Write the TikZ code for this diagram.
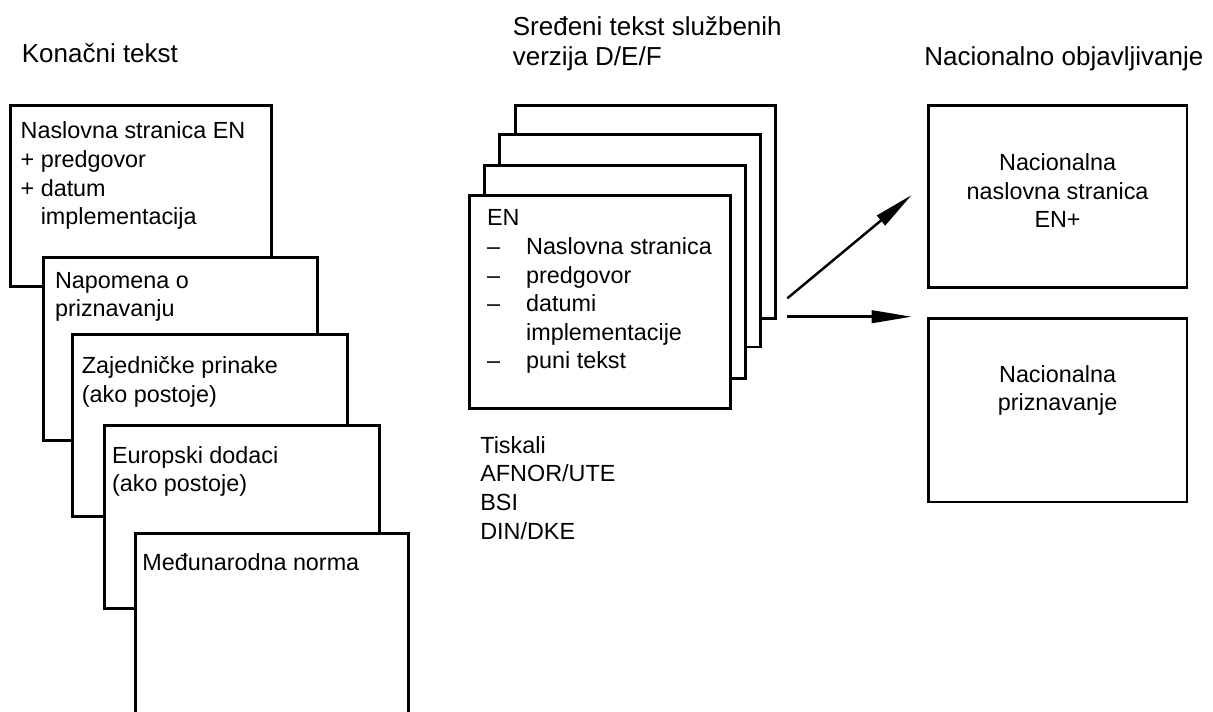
\documentclass[tikz,border=0pt]{standalone}
\usepackage{fontspec}
\setmainfont{Liberation Sans}
\usetikzlibrary{positioning,arrows.meta}
\tikzset{
	card/.style={draw, line width=1.6pt, fill=white, anchor=north west, inner sep=0pt, minimum width=5.5cm, minimum height=3.64cm},
	stackcard/.style={card, minimum width=5.21cm, minimum height=4.26cm},
	natcard/.style={card, minimum width=5.18cm, minimum height=3.66cm},
	txt/.style={inner sep=0pt, align=left, font=\fontsize{13.3}{16.3}\selectfont},
	head/.style={inner sep=0pt, align=left, anchor=north west, font=\fontsize{14.8}{17}\selectfont},
	arr/.style={line width=1.4pt, -{Triangle[length=0.8cm,width=0.25cm]}}
}
\newcommand{\dashitem}{\makebox[0.78cm][l]{--}}
\begin{document}
\begin{tikzpicture}[x=0.02cm,y=-0.02cm]
		\useasboundingbox (0,0) rectangle (1213,711);
		\node[head] (h1) at (21.5,43.3) {Konačni tekst};
		\node[head] (h2) at (512.5,16.7) {Sređeni tekst službenih\\verzija D/E/F};
		\node[head] (h3) at (924,46.7) {Nacionalno objavljivanje};
		% konacni tekst
		\node[card, minimum width=5.21cm, minimum height=3.62cm] (b1) at (9.3,104) {};
		\node[txt, below right=0.354cm and 0.22cm of b1.north west] (t1) {Naslovna stranica EN\\+ predgovor\\+ datum\\\phantom{+ }implementacija};
		\node[card, minimum width=5.49cm, minimum height=3.67cm] (b2) at (41.7,256) {};
		\node[txt, below right=0.314cm and 0.26cm of b2.north west] (t2) {Napomena o\\priznavanju};
		\node[card, minimum width=5.51cm, minimum height=3.63cm] (b3) at (71,333.3) {};
		\node[txt, below right=0.454cm and 0.21cm of b3.north west] (t3) {Zajedničke prinake\\(ako postoje)};
		\node[card, minimum width=5.51cm, minimum height=3.65cm] (b4) at (102.7,424.3) {};
		\node[txt, below right=0.434cm and 0.18cm of b4.north west] (t4) {Europski dodaci\\(ako postoje)};
		\node[card, minimum width=5.47cm, minimum height=4.4cm] (b5) at (134,531.7) {};
		\node[txt, below right=0.432cm and 0.16cm of b5.north west] (t5) {Međunarodna norma};
		% D/E/F
		\node[stackcard] (m4) at (514,104) {};
		\node[stackcard] (m3) at (498.3,132.7) {};
		\node[stackcard] (m2) at (483.3,164) {};
		\node[stackcard] (m1) at (468.3,194) {};
		\node[txt, below right=0.306cm and 0.37cm of m1.north west] (en) {EN\\\dashitem Naslovna stranica\\\dashitem predgovor\\\dashitem datumi\\\hspace*{0.78cm}implementacije\\\dashitem puni tekst};
		\node[txt, anchor=north west] (tisk) at (480,436) {Tiskali\\AFNOR/UTE\\BSI\\DIN/DKE};
		% nacionalno
		\node[natcard, minimum height=3.65cm] (n1) at (926.7,104) {};
		\node[txt, align=center, below=0.986cm of n1.north] (nt1) {Nacionalna\\naslovna stranica\\EN+};
		\node[natcard, minimum height=3.68cm] (n2) at (926.7,316.7) {};
		\node[txt, align=center, below=0.966cm of n2.north] (nt2) {Nacionalna\\priznavanje};
		\coordinate (s1) at (787.3,298.3);
		\coordinate (e1) at (911.7,195);
		\coordinate (s2) at (787.3,316.7);
		\draw[arr] (s1) -- (e1);
		\draw[arr, shorten >=0.3cm] (s2) -- (s2 -| n2.west);
	\end{tikzpicture}
\end{document}
